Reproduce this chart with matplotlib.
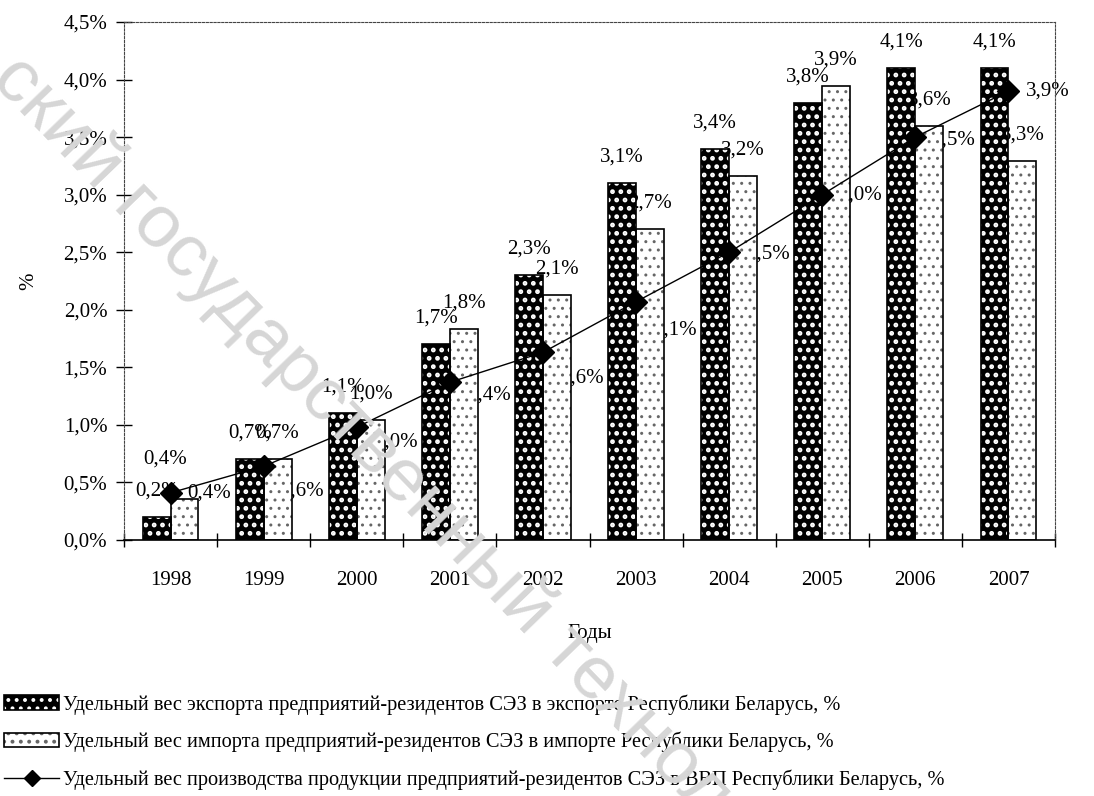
import numpy as np
import matplotlib
matplotlib.use('Agg')
import matplotlib.pyplot as plt
from matplotlib.patches import Patch
from matplotlib.lines import Line2D

plt.rcParams['font.family'] = ['Liberation Serif', 'DejaVu Serif']
plt.rcParams['hatch.linewidth'] = 1.6

years = ['1998', '1999', '2000', '2001', '2002', '2003', '2004', '2005', '2006', '2007']
export_share = [0.2, 0.7, 1.1, 1.7, 2.3, 3.1, 3.4, 3.8, 4.1, 4.1]
import_share = [0.36, 0.7, 1.04, 1.83, 2.13, 2.7, 3.16, 3.94, 3.6, 3.29]
gdp_share = [0.41, 0.64, 0.98, 1.37, 1.63, 2.07, 2.5, 3.0, 3.5, 3.9]
yticks = [0, 0.5, 1.0, 1.5, 2.0, 2.5, 3.0, 3.5, 4.0, 4.5]

legend_labels = [
    'Удельный вес экспорта предприятий-резидентов СЭЗ в экспорте Республики Беларусь, %',
    'Удельный вес импорта предприятий-резидентов СЭЗ в импорте Республики Беларусь, %',
    'Удельный вес производства продукции предприятий-резидентов СЭЗ в ВВП Республики Беларусь, %',
]

# label nudges (pixels) for the line labels, as in the scan
gdp_label_dy = [0, -25, -15, -13, -26, -28, -2, 0, -3, 0]


def pct(v):
    return ('%.1f' % v).replace('.', ',') + '%'


def hatched(patch, lw):
    if hasattr(patch, 'set_hatch_linewidth'):
        patch.set_hatch_linewidth(lw)


fig = plt.figure(figsize=(10.94, 7.96), dpi=100)
ax = fig.add_axes([124 / 1094, 1 - 540 / 796, 931 / 1094, 518 / 796])

x = np.arange(len(years))
w = 0.3
# dark bars: black with white dots
dark = ax.bar(x - w / 2, export_share, w, facecolor='black', edgecolor='white', hatch='..', linewidth=0, zorder=2)
for p in dark:
    hatched(p, 2.2)
ax.bar(x - w / 2, export_share, w, fill=False, edgecolor='black', linewidth=1.2, zorder=2.1)
# light bars: white with small grey dots
light = ax.bar(x + w / 2, import_share, w, facecolor='white', edgecolor='#666666', hatch='..', linewidth=0, zorder=2)
for p in light:
    hatched(p, 1.0)
ax.bar(x + w / 2, import_share, w, fill=False, edgecolor='black', linewidth=1.2, zorder=2.1)

ax.plot(x, gdp_share, color='black', linewidth=1, marker='D', markersize=11, zorder=3)

for i in range(len(years)):
    ax.annotate(pct(export_share[i]), (x[i] - w / 2, export_share[i]), xytext=(0, 26),
                textcoords='offset pixels', ha='center', va='center', fontsize=15, zorder=1)
    dx = -19 if i == 0 else 0
    dy = 14 if i == 0 else 0
    ax.annotate(pct(import_share[i]), (x[i] + w / 2, import_share[i]), xytext=(dx, 26 + dy),
                textcoords='offset pixels', ha='center', va='center', fontsize=15, zorder=1)
    ax.annotate(pct(gdp_share[i]), (x[i], gdp_share[i]), xytext=(17, gdp_label_dy[i]),
                textcoords='offset pixels', ha='left', va='center', fontsize=15, zorder=1)

ax.set_xlim(-0.5, len(years) - 0.5)
ax.set_ylim(0, 4.5)
ax.set_yticks(yticks)
ax.set_yticklabels([pct(v) for v in yticks], fontsize=15)
ax.set_xticks(x)
ax.set_xticklabels(years, fontsize=15)
ax.set_xticks(np.arange(-0.5, len(years)), minor=True)
ax.tick_params(axis='x', which='major', length=0, pad=22)
ax.tick_params(axis='x', which='minor', direction='inout', length=10, width=1)
ax.tick_params(axis='y', direction='inout', length=12, width=1, pad=6)

for side in ['left', 'top', 'right']:
    ax.spines[side].set_linestyle((0, (2, 1.5)))
    ax.spines[side].set_linewidth(0.8)
    ax.spines[side].set_color('#444444')
ax.spines['bottom'].set_linewidth(1.2)

ax.set_xlabel('Годы', fontsize=15, labelpad=25)
ax.set_ylabel('%', fontsize=15, labelpad=18)

h_dark = (Patch(facecolor='black', edgecolor='white', hatch='..', linewidth=0),
          Patch(fill=False, edgecolor='black', linewidth=1.2))
h_light = (Patch(facecolor='white', edgecolor='#666666', hatch='..', linewidth=0),
           Patch(fill=False, edgecolor='black', linewidth=1.2))
h_line = Line2D([], [], color='black', linewidth=1, marker='D', markersize=8)
fig.legend([h_dark, h_light, h_line], legend_labels, loc='upper left',
           bbox_to_anchor=(0.0, 1 - 690 / 796), frameon=False, fontsize=14.7,
           handlelength=2.7, handleheight=0.7, handletextpad=0.2, labelspacing=0.85,
           borderaxespad=0, borderpad=0.2)

# faint diagonal watermark of the scan
fig.text(-10 / 1094, 1 - 80 / 796, 'ский государственный технол', rotation=-46,
         rotation_mode='anchor', ha='left', va='baseline', fontsize=54,
         color='#d6d6d6', family='Liberation Sans', zorder=10)

fig.savefig('out.png', dpi=100)
